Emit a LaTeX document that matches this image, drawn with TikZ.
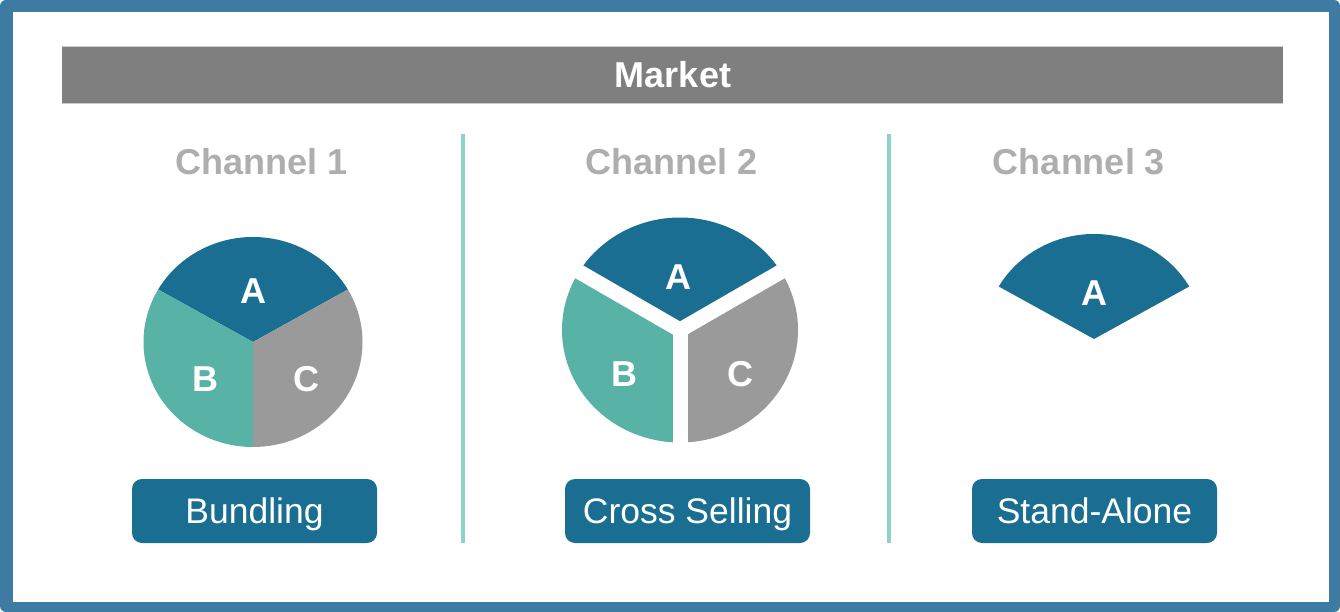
\documentclass[tikz,border=0pt]{standalone}
\usepackage{fontspec}
\setmainfont{Liberation Sans}
\begin{document}
\definecolor{framecol}{HTML}{3D7BA3}
\definecolor{segA}{HTML}{1A6E91}
\definecolor{segB}{HTML}{58B2A6}
\definecolor{segC}{HTML}{9A9A9A}
\definecolor{barcol}{HTML}{7F7F7F}
\definecolor{titlecol}{HTML}{AEAEAE}
\definecolor{sepcol}{HTML}{8DD3CA}
\begin{tikzpicture}[x=1pt,y=1pt,
  bigfont/.style={font=\fontsize{36}{40}\selectfont\bfseries},
  title/.style={bigfont, text=titlecol, inner sep=0pt, text height=25.8pt, text depth=0pt},
  seglabel/.style={font=\fontsize{36}{40}\selectfont\bfseries, text=white, inner sep=0pt, text height=26pt, text depth=0pt},
  button/.style={fill=segA, rounded corners=10pt, minimum width=245pt, minimum height=64pt,
    inner sep=0pt, text=white, font=\fontsize{35.5}{40}\selectfont, text height=25.4pt, text depth=0pt},
  separator/.style={draw=sepcol, line width=4pt},
  gap/.style={draw=white, line width=15pt}]
\useasboundingbox (0,0) rectangle (1340,-612);
% outer frame
\fill[framecol, rounded corners=6pt] (0,0) rectangle (1340,-612);
\fill[white] (13,-12) rectangle (1329,-602);

% market header bar
\fill[barcol] (62,-46) rectangle (1283,-104);
\draw[black!20, line width=1pt] (62,-46.5) -- (1283,-46.5) (62,-103.5) -- (1283,-103.5);
\node[bigfont, text=white, inner sep=0pt, text height=25.8pt, text depth=0pt] (market) at (673,-75) {Market};

% channel titles
\node[title] (t1) at (262,-162) {Channel 1};
\node[title] (t2) at (671.5,-162) {Channel 2};
\node[title] (t3) at (1079,-162) {Channel 3};

% separators
\coordinate (s1a) at (463,-134); \coordinate (s1b) at (463,-543);
\coordinate (s2a) at (889,-134); \coordinate (s2b) at (889,-543);
\draw[separator] (s1a) -- (s1b);
\draw[separator] (s2a) -- (s2b);

% channel 1: full pie
\coordinate (c1) at (253,-342);
\fill[segA] (c1) -- ++(30:109.5 and 105) arc[start angle=30, end angle=150, x radius=109.5, y radius=105] -- cycle;
\fill[segB] (c1) -- ++(150:109.5 and 105) arc[start angle=150, end angle=270, x radius=109.5, y radius=105] -- cycle;
\fill[segC] (c1) -- ++(270:109.5 and 105) arc[start angle=270, end angle=390, x radius=109.5, y radius=105] -- cycle;
\node[seglabel] (a1) at (253,-290) {A};
\node[seglabel] (b1) at (205,-378) {B};
\node[seglabel] (cc1) at (306,-378) {C};

% channel 2: pie with separated slices
\coordinate (c2) at (680,-330);
\fill[segA] (c2) -- ++(30:118 and 112.5) arc[start angle=30, end angle=150, x radius=118, y radius=112.5] -- cycle;
\fill[segB] (c2) -- ++(150:118 and 112.5) arc[start angle=150, end angle=270, x radius=118, y radius=112.5] -- cycle;
\fill[segC] (c2) -- ++(270:118 and 112.5) arc[start angle=270, end angle=390, x radius=118, y radius=112.5] -- cycle;
\draw[gap] (c2) -- ++(30:140);
\draw[gap] (c2) -- ++(150:140);
\draw[gap] (c2) -- ++(270:140);
\node[seglabel] (a2) at (678,-276) {A};
\node[seglabel] (b2) at (624,-373) {B};
\node[seglabel] (cc2) at (740,-373) {C};

% channel 3: single slice
\coordinate (c3) at (1094,-339);
\fill[segA] (c3) -- ++(30:110 and 105) arc[start angle=30, end angle=150, x radius=110, y radius=105] -- cycle;
\node[seglabel] (a3) at (1094,-292) {A};

% strategy buttons
\node[button] (bundling) at (254.5,-511) {Bundling};
\node[button] (cross) at (687.5,-511) {Cross Selling};
\node[button] (stand) at (1094.5,-511) {Stand-Alone};
\end{tikzpicture}
\end{document}
